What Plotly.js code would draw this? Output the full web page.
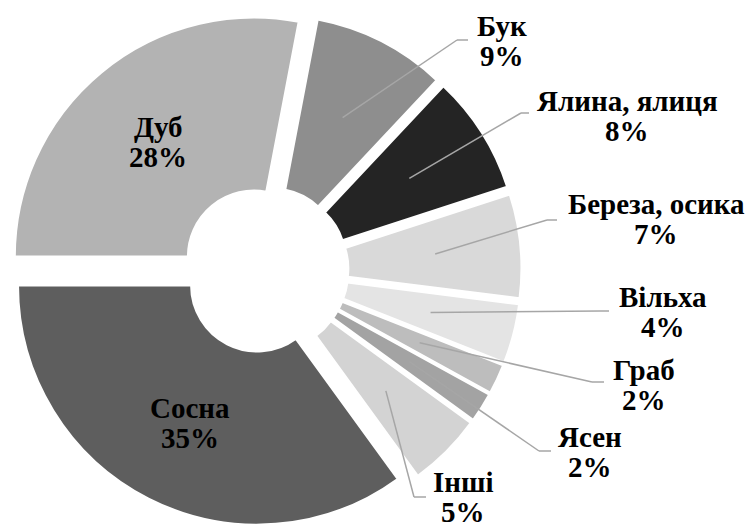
<!DOCTYPE html>
<html>
<head>
<meta charset="utf-8">
<script src="https://cdn.plot.ly/plotly-3.0.1.min.js"></script>
<style>html,body{margin:0;padding:0;background:#fff;}#chart{width:748px;height:527px;}</style>
</head>
<body>
<div id="chart"></div>
<script>
// ---- data ----
const labels = ['Бук', 'Ялина, ялиця', 'Береза, осика', 'Вільха', 'Граб', 'Ясен', 'Інші', 'Сосна', 'Дуб'];
const values = [9, 8, 7, 4, 2, 2, 5, 35, 28];
const colors = ['#8e8e8e', '#242424', '#d9d9d9', '#e4e4e4', '#bdbdbd', '#a3a3a3', '#d3d3d3', '#5e5e5e', '#b3b3b3'];

// ---- label layout (pixel positions of label block centres) ----
const labelPos = [[502, 41], [627, 116], [656, 219], [663, 312], [644, 385], [590, 452], [463, 497], [190, 423], [158, 142]];
// leader line elbow and end (null = label inside slice)
const lineElbow = [[457, 40], [521, 113], [547, 220], [600, 311], [592, 382], [539, 451], [414, 497], null, null];
const lineEnd = [[468, 40], [529, 113], [557, 220], [609, 311], [604, 382], [551, 451], [426, 497], null, null];

const W = 748, H = 527;
const pull = 0.073;
const rotation = 10.8;
const dom = {x: [8.5 / W, 521.5 / W], y: [1 - 526.5 / H, 1 - 13.5 / H]};

// geometry from plotly's own pie scaling rule
const boxW = W * (dom.x[1] - dom.x[0]), boxH = H * (dom.y[1] - dom.y[0]);
const R = Math.min(boxW, boxH) / 2 / (1 + pull);
const cx = W * (dom.x[0] + dom.x[1]) / 2;
const cy = H * (1 - (dom.y[0] + dom.y[1]) / 2);
const total = values.reduce((a, b) => a + b, 0);

const px = x => x / W;
const py = y => 1 - y / H;

const shapes = [];
const annotations = [];
let acc = 0;
values.forEach((v, i) => {
  const mid = (rotation + (acc + v / 2) / total * 360) * Math.PI / 180;
  acc += v;
  if (lineElbow[i]) {
    const rho = (pull + 0.642) * R;
    const sx = cx + rho * Math.sin(mid), sy = cy - rho * Math.cos(mid);
    const lineStyle = {color: '#a6a6a6', width: 1.5};
    shapes.push({type: 'line', xref: 'paper', yref: 'paper', x0: px(sx), y0: py(sy), x1: px(lineElbow[i][0]), y1: py(lineElbow[i][1]), line: lineStyle});
    shapes.push({type: 'line', xref: 'paper', yref: 'paper', x0: px(lineElbow[i][0]), y0: py(lineElbow[i][1]), x1: px(lineEnd[i][0]), y1: py(lineEnd[i][1]), line: lineStyle});
  }
  annotations.push({xref: 'paper', yref: 'paper', x: px(labelPos[i][0]), y: py(labelPos[i][1] - 15), text: labels[i], showarrow: false, xanchor: 'center', yanchor: 'middle',
    font: {family: 'Liberation Serif', size: 29, color: '#000000', weight: 'bold'}});
  annotations.push({xref: 'paper', yref: 'paper', x: px(labelPos[i][0]), y: py(labelPos[i][1] + 15), text: v + '%', showarrow: false, xanchor: 'center', yanchor: 'middle',
    font: {family: 'Liberation Serif', size: 29, color: '#000000', weight: 'bold'}});
});

const trace = {
  type: 'pie',
  labels: labels,
  values: values,
  sort: false,
  direction: 'clockwise',
  rotation: rotation,
  hole: 0.276,
  pull: pull,
  textinfo: 'none',
  hoverinfo: 'none',
  marker: {colors: colors, line: {color: '#ffffff', width: 2}},
  domain: dom
};

Plotly.newPlot('chart', [trace], {
  width: W, height: H,
  margin: {l: 0, r: 0, t: 0, b: 0},
  showlegend: false,
  paper_bgcolor: '#ffffff',
  font: {family: 'Liberation Serif'},
  shapes: shapes,
  annotations: annotations
}, {staticPlot: true});
</script>
</body>
</html>
